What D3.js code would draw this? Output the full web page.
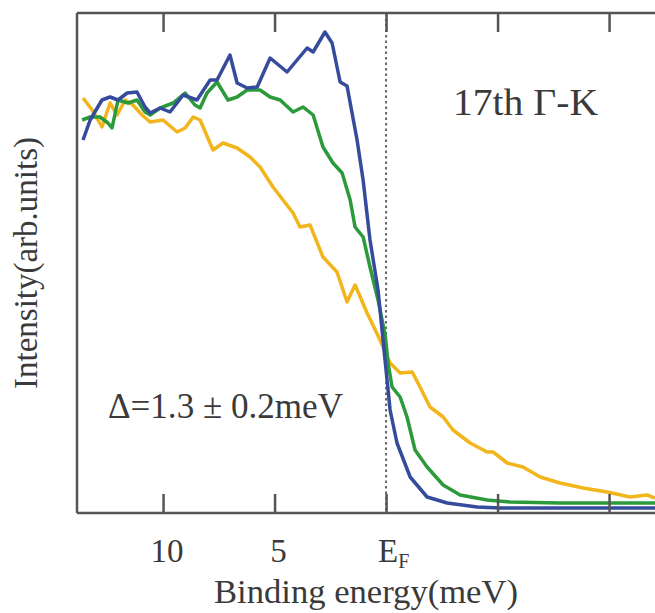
<!DOCTYPE html>
<html><head><meta charset="utf-8">
<script src="https://cdn.jsdelivr.net/npm/d3@7"></script>
<style>body{margin:0;background:#fff}svg{display:block}text{font-family:"Liberation Serif","DejaVu Serif",serif;fill:#3a3a3a}</style>
</head><body><svg id="c" width="655" height="613"></svg>
<script>
// Binding energy (meV) and intensity (arb. units)
const blueE=[13.59,13.27,12.74,12.38,12.02,11.61,11.17,10.81,10.58,10.13,9.69,9.10,8.48,7.89,7.58,7.00,6.68,6.23,5.78,5.20,4.44,3.54,3.27,2.74,2.42,2.06,1.75,1.30,1.03,0.72,0.36,0.00,-0.18,-0.49,-1.08,-1.84,-2.74,-4.08,-5.11,-7.80,-12.06];
const blueI=[74.6,78.6,82.6,83.2,82.6,84.0,84.2,81.2,80.0,81.0,80.2,83.6,82.6,86.6,86.6,91.6,86.0,85.0,85.2,91.0,88.2,93.0,92.2,96.2,94.0,86.2,85.4,74.6,66.6,54.6,44.6,28.6,20.6,14.0,7.2,3.2,2.0,1.2,1.0,1.0,1.0];
const greenE=[13.63,13.27,12.83,12.47,12.29,12.02,11.57,11.17,10.81,10.58,10.13,9.55,9.01,8.57,8.34,8.03,7.58,7.09,6.68,6.23,5.65,5.20,4.75,4.17,3.72,3.27,2.83,2.38,1.97,1.61,1.39,1.03,0.72,0.36,0.04,-0.09,-0.27,-0.63,-0.94,-1.30,-1.84,-2.56,-3.32,-4.53,-5.56,-7.80,-10.04,-12.06];
const greenI=[78.6,79.2,79.2,78.0,77.0,82.6,82.0,82.6,80.2,79.6,81.0,82.0,84.0,81.6,81.0,84.0,86.2,82.6,83.2,84.6,84.6,83.2,82.6,80.2,81.2,79.6,73.2,70.0,68.0,62.6,57.2,55.2,49.2,42.6,35.6,30.0,25.2,23.2,19.2,12.6,9.2,5.6,3.6,2.6,2.2,2.0,2.0,2.0];
const yellowE=[13.59,13.18,12.74,12.38,12.06,11.70,11.35,10.94,10.58,10.00,9.37,9.01,8.65,8.34,7.76,7.31,6.68,6.10,5.65,5.07,4.62,4.17,3.86,3.41,2.83,2.20,1.75,1.39,0.85,0.27,-0.18,-0.63,-1.17,-1.43,-1.97,-2.56,-3.00,-3.77,-4.53,-4.80,-5.43,-6.14,-6.91,-7.80,-8.83,-9.91,-10.94,-11.70,-12.06];
const yellowI=[83.0,80.6,77.2,82.0,79.6,82.6,81.6,79.6,78.2,78.6,76.2,77.0,79.2,78.6,72.6,74.0,73.0,71.2,69.2,65.2,62.6,60.0,57.2,57.6,51.2,48.2,42.2,45.6,40.0,34.6,30.0,28.0,28.2,26.0,21.2,19.2,16.6,14.0,12.2,12.2,10.0,9.2,7.2,6.0,5.0,4.2,3.2,3.6,3.0];
const tickValues=[10,5,0,-5,-10];
const tickLabels=["10","5","E_F"];

const svg=d3.select("#c");
const L=77,R=655,T=13,B=513;
const x=d3.scaleLinear().domain([13.86,-12.06]).range([L,R]);
const y=d3.scaleLinear().domain([0,100]).range([B,T]);
const frame="#555";

// E_F dotted line
svg.append("line").attr("x1",x(0)).attr("x2",x(0)).attr("y1",T).attr("y2",B)
  .attr("stroke","#666").attr("stroke-width",2).attr("stroke-dasharray","2.5,3");

const line=d3.line().x(d=>x(d[0])).y(d=>y(d[1]));
const series=[[yellowE,yellowI,"#f2b51c"],[greenE,greenI,"#2b9a3a"],[blueE,blueI,"#354b9c"]];
series.forEach(([e,v,c])=>{
  svg.append("path").datum(e.map((d,i)=>[d,v[i]])).attr("d",line)
   .attr("fill","none").attr("stroke",c).attr("stroke-width",3.5).attr("stroke-linejoin","round");
});

// frame
svg.append("line").attr("x1",L).attr("x2",L).attr("y1",T).attr("y2",B).attr("stroke",frame).attr("stroke-width",2.5);
svg.append("line").attr("x1",L).attr("x2",R).attr("y1",T).attr("y2",T).attr("stroke",frame).attr("stroke-width",2.5);
svg.append("line").attr("x1",L).attr("x2",R).attr("y1",B).attr("y2",B).attr("stroke",frame).attr("stroke-width",2.5);

// ticks (top & bottom, inward)
const gBot=svg.append("g").attr("transform",`translate(0,${B})`)
  .call(d3.axisBottom(x).tickValues(tickValues).tickSizeInner(-19).tickSizeOuter(0).tickFormat(""));
const gTop=svg.append("g").attr("transform",`translate(0,${T})`)
  .call(d3.axisTop(x).tickValues(tickValues).tickSizeInner(-19).tickSizeOuter(0).tickFormat(""));
[gBot,gTop].forEach(g=>{g.select(".domain").remove();g.selectAll("line").attr("stroke",frame).attr("stroke-width",2.5);});

// tick labels
tickLabels.forEach((t,i)=>{
  const tx=x(tickValues[i]);
  if(t==="E_F"){
    const te=svg.append("text").attr("x",tx-8).attr("y",562).attr("font-size",33);
    te.append("tspan").text("E");
    te.append("tspan").attr("font-size",20).attr("dy",6).text("F");
  } else {
    svg.append("text").attr("x",tx+4).attr("y",562).attr("text-anchor","middle").attr("font-size",33).text(t);
  }
});

svg.append("text").attr("x",214).attr("y",603).attr("font-size",34).attr("textLength",304).attr("lengthAdjust","spacingAndGlyphs").text("Binding energy(meV)");
svg.append("text").attr("transform","translate(37,263) rotate(-90)").attr("text-anchor","middle").attr("font-size",33).text("Intensity(arb.units)");
svg.append("text").attr("x",453).attr("y",115).attr("font-size",37).attr("textLength",145).attr("lengthAdjust","spacingAndGlyphs").text("17th Γ-K");
svg.append("text").attr("x",108).attr("y",418).attr("font-size",35).attr("textLength",235).attr("lengthAdjust","spacingAndGlyphs").text("Δ=1.3 ± 0.2meV");
</script></body></html>
